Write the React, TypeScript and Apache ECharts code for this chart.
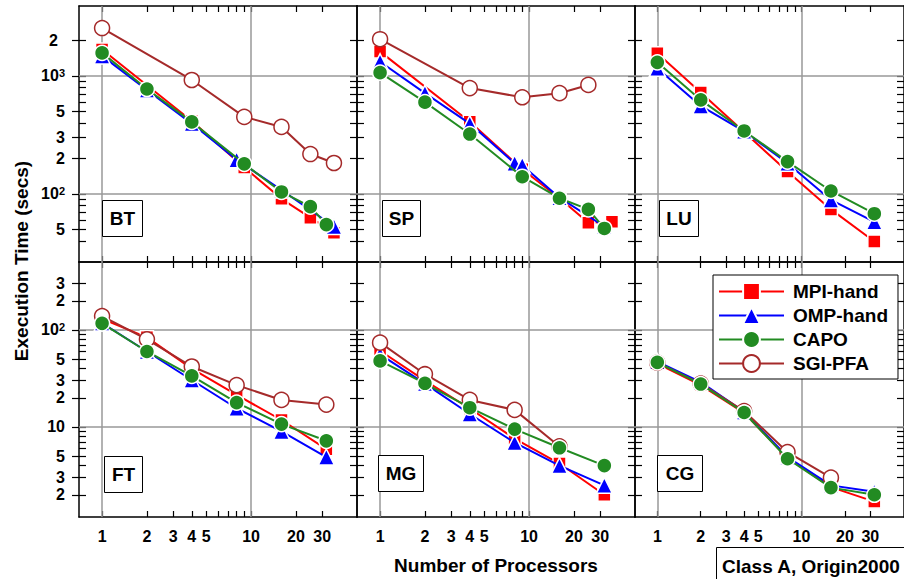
import React, { useEffect, useRef } from 'react';
import * as echarts from 'echarts';

const FONT = '"Liberation Sans", Arial, Helvetica, sans-serif';

// ---- axes ----
const X_TICKS = [1, 2, 3, 4, 5, 6, 7, 8, 9, 10, 20, 30];
const X_LABELS = [1, 2, 3, 4, 5, 10, 20, 30];
const X_RANGE = [0.7, 51.4];
const GRID_X = [1, 10];

const TOP_MAJOR = [50, 100, 200, 300, 500, 1000, 2000];
const TOP_MINOR = [40, 60, 70, 80, 90, 400, 600, 700, 800, 900];
const TOP_RANGE = [26.5, 3920];
const TOP_GRID_Y = [100, 1000];

const BOT_MAJOR = [2, 3, 5, 10, 20, 30, 50, 100, 200, 300];
const BOT_MINOR = [4, 6, 7, 8, 9, 40, 60, 70, 80, 90];
const BOT_RANGE = [1.18, 502];
const BOT_GRID_Y = [10, 100];

const SERIES_NAMES = ['MPI-hand', 'OMP-hand', 'CAPO', 'SGI-PFA'];
const PANEL_NAMES = ['BT', 'SP', 'LU', 'FT', 'MG', 'CG'];
const P6 = [1, 2, 4, 8, 16, 32];
const P5 = [1, 2, 4, 8, 16];

// ---- BT ----
const BT_MPI_X = [1, 4, 9, 16, 25, 36];
const BT_MPI_Y = [1680, 415, 168, 91, 63, 47];
const BT_OMP_X = [1, 2, 4, 8, 16, 36];
const BT_OMP_Y = [1480, 760, 395, 195, 108, 53];
const BT_CAPO_X = [1, 2, 4, 9, 16, 25, 32];
const BT_CAPO_Y = [1570, 776, 408, 180, 104, 78, 55];
const BT_SGI_X = [1, 4, 9, 16, 25, 36];
const BT_SGI_Y = [2550, 925, 450, 370, 218, 183];

// ---- SP ----
const SP_MPI_X = [1, 4, 9, 16, 25, 36];
const SP_MPI_Y = [1610, 410, 162, 92, 57, 58];
const SP_OMP_X = [1, 2, 4, 8, 9, 16, 32];
const SP_OMP_Y = [1320, 715, 395, 182, 175, 93, 53];
const SP_CAPO_X = [1, 2, 4, 9, 16, 25, 32];
const SP_CAPO_Y = [1067, 600, 322, 140, 92, 74, 51];
const SP_SGI_X = [1, 4, 9, 16, 25];
const SP_SGI_Y = [2050, 790, 660, 715, 840];

// ---- LU ----
const LU_MPI_Y = [1557, 723, 335, 155, 74, 39.5];
const LU_OMP_Y = [1162, 557, 340, 182, 89, 58];
const LU_CAPO_Y = [1306, 627, 342, 188, 106, 68];

// ---- FT ----
const FT_MPI_Y = [130, 84, 40, 21.4, 11.8, 5.9];
const FT_OMP_Y = [118, 60, 30.5, 15.6, 9.0, 4.9];
const FT_CAPO_Y = [117, 60, 33.6, 17.8, 10.7, 7.2];
const FT_SGI_Y = [139, 80, 42, 27, 19, 17];

// ---- MG ----
const MG_MPI_Y = [61, 30, 15.5, 7.6, 4.2, 2.0];
const MG_OMP_Y = [56, 28, 13.6, 6.9, 4.0, 2.5];
const MG_CAPO_Y = [48, 28.2, 15.8, 9.5, 6.1, 4.0];
const MG_SGI_Y = [74, 35, 19, 15, 6.3];

// ---- CG ----
const CG_MPI_Y = [45, 27, 14, 4.8, 2.4, 1.7];
const CG_OMP_Y = [47, 29, 14.3, 4.9, 2.5, 2.15];
const CG_CAPO_Y = [46.4, 27.7, 14.1, 4.7, 2.37, 2.0];
const CG_SGI_Y = [46, 28, 14.6, 5.5, 3.0];

type XY = [number[], number[]] | null;
const PANEL_SERIES: XY[][] = [
  [[BT_MPI_X, BT_MPI_Y], [BT_OMP_X, BT_OMP_Y], [BT_CAPO_X, BT_CAPO_Y], [BT_SGI_X, BT_SGI_Y]],
  [[SP_MPI_X, SP_MPI_Y], [SP_OMP_X, SP_OMP_Y], [SP_CAPO_X, SP_CAPO_Y], [SP_SGI_X, SP_SGI_Y]],
  [[P6, LU_MPI_Y], [P6, LU_OMP_Y], [P6, LU_CAPO_Y], null],
  [[P6, FT_MPI_Y], [P6, FT_OMP_Y], [P6, FT_CAPO_Y], [P6, FT_SGI_Y]],
  [[P6, MG_MPI_Y], [P6, MG_OMP_Y], [P6, MG_CAPO_Y], [P5, MG_SGI_Y]],
  [[P6, CG_MPI_Y], [P6, CG_OMP_Y], [P6, CG_CAPO_Y], [P5, CG_SGI_Y]],
];

const STYLES: Record<string, any> = {
  'MPI-hand': { color: '#ff0000', symbol: 'rect', size: 13, hollow: false },
  'OMP-hand': { color: '#0000ff', symbol: 'triangle', size: 16, hollow: false },
  CAPO: { color: '#228b22', symbol: 'circle', size: 15, hollow: false },
  'SGI-PFA': { color: '#a52a2a', symbol: 'circle', size: 15, hollow: true },
};
const DRAW_ORDER = [0, 1, 3, 2];

const GRID_LEFTS = [79, 357, 635];
const GRID_TOPS = [6, 262];
const GRID_W = 278;
const GRID_HS = [256, 255];

const LABEL_BOXES = [
  { x: 102, y: 200, w: 40 },
  { x: 382, y: 200, w: 38 },
  { x: 659, y: 200, w: 39 },
  { x: 104, y: 456, w: 38 },
  { x: 378, y: 455, w: 45 },
  { x: 657, y: 455, w: 45 },
];

function yLabel(v: number): string {
  const e = Math.floor(Math.log10(v) + 1e-9);
  const m = Math.round(v / Math.pow(10, e));
  if (m === 1) return e === 1 ? '{b|10}' : `{b|10}{s|${e}}`;
  if (v >= 1999 && v <= 2001) return `{p|${m}}`;
  return `{b|${m}}`;
}

export default function App() {
  const ref = useRef<HTMLDivElement>(null);
  useEffect(() => {
    if (!ref.current) return;
    const chart = echarts.init(ref.current, null, { renderer: 'svg' });
    const grids: any[] = [];
    const xAxes: any[] = [];
    const yAxes: any[] = [];
    const series: any[] = [];
    const labelStyle = { fontFamily: FONT, fontWeight: 'bold', fontSize: 16, color: '#000' };
    const rich = {
      b: { fontFamily: FONT, fontWeight: 'bold', fontSize: 16, color: '#000' },
      s: { fontFamily: FONT, fontWeight: 'bold', fontSize: 11, color: '#000', verticalAlign: 'top', padding: [0, 0, 6, 0] },
      p: { fontFamily: FONT, fontWeight: 'bold', fontSize: 16, color: '#000', padding: [0, 7, 0, 0] },
    };
    const lineBlack = { color: '#000', width: 1.5 };
    for (let g = 0; g < 6; g++) {
      const r = Math.floor(g / 3);
      const c = g % 3;
      grids.push({ left: GRID_LEFTS[c], top: GRID_TOPS[r], width: GRID_W, height: GRID_HS[r], containLabel: false });
      const yr = r === 0 ? TOP_RANGE : BOT_RANGE;
      const major = r === 0 ? TOP_MAJOR : BOT_MAJOR;
      const minor = r === 0 ? TOP_MINOR : BOT_MINOR;
      const allY = [...major, ...minor];
      const xCommon = {
        type: 'log', logBase: 10, gridIndex: g, min: X_RANGE[0], max: X_RANGE[1],
        axisLine: { show: true, lineStyle: lineBlack },
        axisTick: { show: true, inside: true, length: 6, customValues: X_TICKS, lineStyle: { color: '#000', width: 1.2 } },
        splitLine: { show: false }, minorTick: { show: false }, minorSplitLine: { show: false },
      };
      xAxes.push({
        ...xCommon, position: 'bottom',
        axisLabel: { show: r === 1, customValues: X_LABELS, margin: 11, ...labelStyle, formatter: (v: number) => String(Math.round(v)) },
      });
      xAxes.push({ ...xCommon, position: 'top', axisLabel: { show: false } });
      const yCommon = {
        type: 'log', logBase: 10, gridIndex: g, min: yr[0], max: yr[1],
        splitLine: { show: false }, minorTick: { show: false }, minorSplitLine: { show: false },
      };
      yAxes.push({
        ...yCommon, position: 'left',
        axisLine: { show: true, lineStyle: lineBlack },
        axisTick: { show: true, inside: true, length: 7, customValues: allY, lineStyle: { color: '#000', width: 1.2 } },
        axisLabel: { show: false },
      });
      yAxes.push({
        ...yCommon, position: 'right',
        axisLine: { show: true, lineStyle: lineBlack },
        axisTick: { show: true, inside: true, length: 7, customValues: allY, lineStyle: { color: '#000', width: 1.2 } },
        axisLabel: { show: false },
      });
      yAxes.push({
        ...yCommon, position: 'left',
        axisLine: { show: false },
        axisTick: { show: c === 0, inside: false, length: 7, customValues: major, lineStyle: { color: '#000', width: 1.2 } },
        axisLabel: { show: c === 0, customValues: major, margin: 14, ...labelStyle, rich, formatter: yLabel },
      });

      const gridY = r === 0 ? TOP_GRID_Y : BOT_GRID_Y;
      DRAW_ORDER.forEach((si, k) => {
        const d = PANEL_SERIES[g][si];
        const name = SERIES_NAMES[si];
        const st = STYLES[name];
        if (!d) return;
        const s: any = {
          type: 'line', name, xAxisIndex: 2 * g, yAxisIndex: 3 * g,
          data: d[0].map((x, i) => [x, d[1][i]]),
          symbol: st.symbol, symbolSize: st.size, showAllSymbol: true,
          color: st.color,
          lineStyle: { color: st.color, width: 2 },
          itemStyle: st.hollow
            ? { color: '#fff', borderColor: st.color, borderWidth: 1.5 }
            : { color: st.color, borderColor: '#fff', borderWidth: 1.5 },
          z: 10 + k, silent: true, clip: false,
          emphasis: { disabled: true },
        };
        if (k === 0) {
          s.markLine = {
            silent: true, symbol: 'none', z: 1, animation: false,
            label: { show: false },
            lineStyle: { color: '#999', width: 1.5, type: 'solid' },
            emphasis: { disabled: true },
            data: [...GRID_X.map((v) => ({ xAxis: v })), ...gridY.map((v) => ({ yAxis: v }))],
          };
        }
        series.push(s);
      });
    }

    const graphic: any[] = [];
    LABEL_BOXES.forEach((b, i) => {
      graphic.push({
        type: 'rect', shape: { x: b.x + 0.5, y: b.y + 0.5, width: b.w, height: 36 },
        style: { fill: '#fff', stroke: '#000', lineWidth: 1 }, z: 100,
      });
      graphic.push({
        type: 'text', x: b.x + b.w / 2 + 0.5, y: b.y + 18.5, z: 101,
        style: { text: PANEL_NAMES[i], fill: '#000', fontFamily: FONT, fontWeight: 'bold', fontSize: 19, align: 'center', verticalAlign: 'middle' },
      });
    });
    graphic.push({
      type: 'rect', shape: { x: 716.5, y: 547.5, width: 200, height: 40 },
      style: { fill: '#fff', stroke: '#000', lineWidth: 1 }, z: 100,
    });
    graphic.push({
      type: 'text', x: 722, y: 566, z: 101,
      style: { text: 'Class A, Origin2000', fill: '#000', fontFamily: FONT, fontWeight: 'bold', fontSize: 19, align: 'left', verticalAlign: 'middle' },
    });
    graphic.push({
      type: 'text', x: 496, y: 565, z: 101,
      style: { text: 'Number of Processors', fill: '#000', fontFamily: FONT, fontWeight: 'bold', fontSize: 19, align: 'center', verticalAlign: 'middle' },
    });
    graphic.push({
      type: 'text', x: 21, y: 261, rotation: Math.PI / 2, z: 101,
      style: { text: 'Execution Time (secs)', fill: '#000', fontFamily: FONT, fontWeight: 'bold', fontSize: 19, align: 'center', verticalAlign: 'middle' },
    });

    chart.setOption({
      animation: false,
      backgroundColor: '#fff',
      grid: grids,
      xAxis: xAxes,
      yAxis: yAxes,
      series,
      graphic,
      legend: {
        data: SERIES_NAMES,
        orient: 'vertical', left: 713, top: 275,
        itemWidth: 65, itemHeight: 21, itemGap: 5,
        padding: [7, 10, 6, 5],
        backgroundColor: '#fff', borderColor: '#000', borderWidth: 1,
        textStyle: { fontFamily: FONT, fontWeight: 'bold', fontSize: 19, color: '#000', padding: [0, 0, 0, 4] },
        selectedMode: false, z: 50,
      },
    });
    return () => chart.dispose();
  }, []);
  return <div ref={ref} style={{ position: 'absolute', left: 0, top: 0, width: 904, height: 579 }} />;
}
